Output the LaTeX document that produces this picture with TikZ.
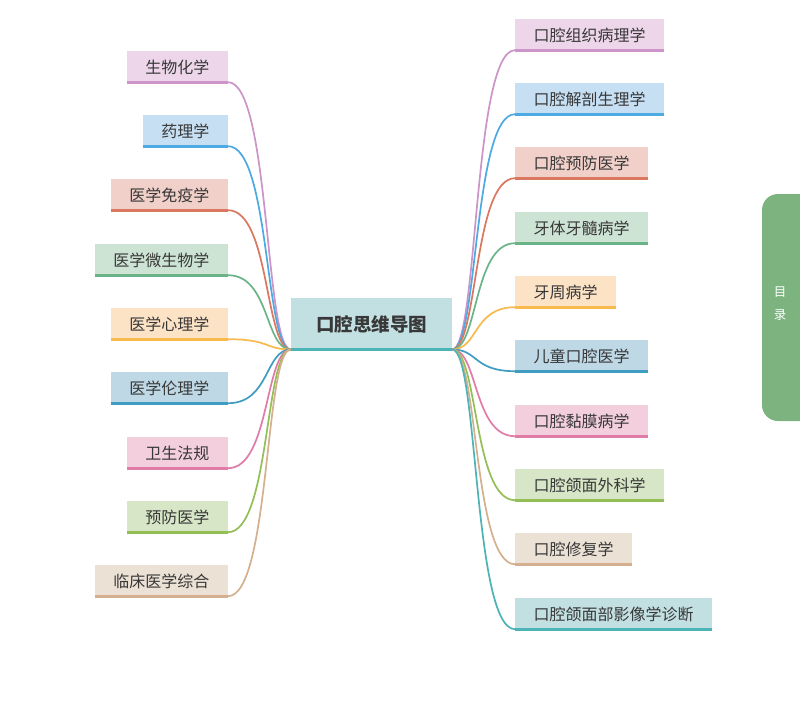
\documentclass[tikz,border=0pt]{standalone}
\usepackage{fontspec}
\setmainfont{Noto Sans CJK SC}
\usetikzlibrary{calc,positioning}
\definecolor{txtgray}{HTML}{383838}
\definecolor{purfill}{HTML}{EDD6EA}\definecolor{purbar}{HTML}{CC94C8}
\definecolor{blufill}{HTML}{C6DFF3}\definecolor{blubar}{HTML}{4DA9E2}
\definecolor{redfill}{HTML}{F1D0C9}\definecolor{redbar}{HTML}{D9775F}
\definecolor{grnfill}{HTML}{CDE3D3}\definecolor{grnbar}{HTML}{6BB488}
\definecolor{orgfill}{HTML}{FDE3C6}\definecolor{orgbar}{HTML}{F8BA4E}
\definecolor{teafill}{HTML}{BED8E6}\definecolor{teabar}{HTML}{3E9DC1}
\definecolor{pnkfill}{HTML}{F3CFDD}\definecolor{pnkbar}{HTML}{E17BA7}
\definecolor{limfill}{HTML}{D6E6C7}\definecolor{limbar}{HTML}{94BF56}
\definecolor{tanfill}{HTML}{EBE1D5}\definecolor{tanbar}{HTML}{D5B08E}
\definecolor{cyafill}{HTML}{C2DFE2}\definecolor{cyabar}{HTML}{4CB3B7}
\definecolor{tabgrn}{HTML}{7CB37F}
\tikzset{
  topic/.style={fill=#1fill, text=txtgray, minimum height=33pt, inner xsep=18.5pt, inner ysep=0pt,
    font=\fontsize{16}{18}\selectfont},
  branch/.style={#1bar, line width=1.7pt},
  underbar/.style={#1bar, line width=3pt},
}
\begin{document}
\begin{tikzpicture}[x=1pt,y=-1pt]
  \useasboundingbox[fill=white] (0,0) rectangle (800,704);
  % central topic
  \node[topic=cya, minimum width=161pt, minimum height=53pt, font=\fontsize{18.5}{20}\selectfont\bfseries] (root) at (371.5,324.5) {口腔思维导图};
  \draw[underbar=cya, line width=3.5pt] ([yshift=1.75pt]root.south west) -- ([yshift=1.75pt]root.south east);
  \coordinate (cl) at ([yshift=1.75pt]root.south west);
  \coordinate (cr) at ([yshift=1.75pt]root.south east);
  % left branches
  \foreach \i/\y/\t/\c in {1/67/生物化学/pur, 2/131/药理学/blu, 3/195/医学免疫学/red,
      4/260/医学微生物学/grn, 5/324/医学心理学/org, 6/388/医学伦理学/tea,
      7/453/卫生法规/pnk, 8/517/预防医学/lim, 9/581/临床医学综合/tan}
  {
    \node[topic=\c, anchor=east] (l\i) at (228,\y) {\t};
    \draw[underbar=\c] ([yshift=1.5pt]l\i.south west) -- ([yshift=1.5pt]l\i.south east);
    \draw[branch=\c] (cl) .. controls +(-26,0) and +(42,0) .. ([yshift=1.5pt]l\i.south east);
  }
  % right branches
  \foreach \i/\y/\t/\c in {1/35/口腔组织病理学/pur, 2/99/口腔解剖生理学/blu, 3/163/口腔预防医学/red,
      4/228/牙体牙髓病学/grn, 5/292/牙周病学/org, 6/356/儿童口腔医学/tea,
      7/421/口腔黏膜病学/pnk, 8/485/口腔颌面外科学/lim, 9/549/口腔修复学/tan,
      10/614/口腔颌面部影像学诊断/cya}
  {
    \node[topic=\c, anchor=west] (r\i) at (515,\y) {\t};
    \draw[underbar=\c] ([yshift=1.5pt]r\i.south west) -- ([yshift=1.5pt]r\i.south east);
    \draw[branch=\c] (cr) .. controls +(26,0) and +(-42,0) .. ([yshift=1.5pt]r\i.south west);
  }
  % side tab
  \fill[tabgrn] (800,194) [rounded corners=16pt] -- (762,194) -- (762,421) [sharp corners] -- (800,421) -- cycle;
  \node[white, font=\fontsize{12.5}{14}\selectfont] (tabA) at (780,292) {目};
  \node[white, font=\fontsize{12.5}{14}\selectfont, below=5pt of tabA] (tabB) {录};
\end{tikzpicture}
\end{document}
